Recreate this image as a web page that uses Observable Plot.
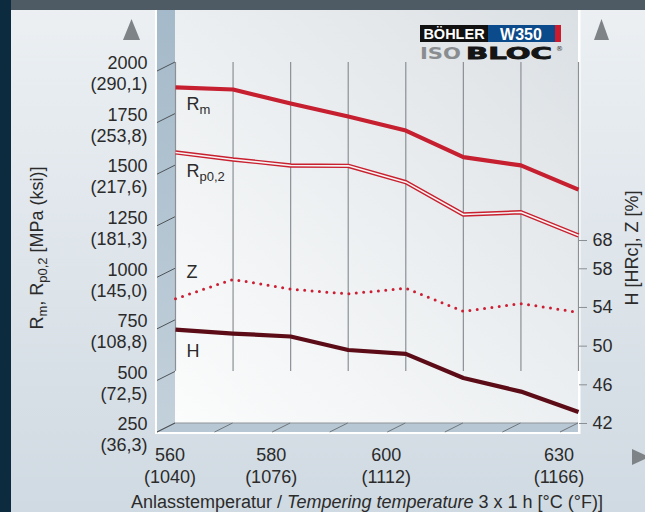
<!DOCTYPE html>
<html><head><meta charset="utf-8">
<script src="https://cdn.jsdelivr.net/npm/d3@7"></script>
<script src="https://cdn.jsdelivr.net/npm/@observablehq/plot@0.6"></script>
<style>
html,body{margin:0;padding:0;}
body{width:645px;height:512px;overflow:hidden;}
#chart{position:relative;width:645px;height:512px;background:linear-gradient(180deg,#ecf0f3 0%,#dde4ea 55%,#d0dae2 100%);font-family:"Liberation Sans",Arial,sans-serif;}
</style></head><body><div id="chart"></div>
<script>
// ---- data ----
const temps   = [560, 570, 580, 590, 600, 610, 620, 630];        // °C
const rm      = [1879, 1869, 1801, 1738, 1670, 1541, 1501, 1384]; // MPa
const rp02    = [1564, 1530, 1501, 1499, 1420, 1263, 1274, 1161]; // MPa
const zPct    = [54.9, 56.9, 55.9, 55.4, 56.0, 53.6, 54.4, 53.5]; // right axis units
const hHRC    = [51.7, 51.3, 51.0, 49.6, 49.2, 46.7, 45.3, 43.2]; // right axis units
const mpaTicks  = [250, 500, 750, 1000, 1250, 1500, 1750, 2000];
const ksiLabels = ["36,3", "72,5", "108,8", "145,0", "181,3", "217,6", "253,8", "290,1"];
const xTicks    = [560, 580, 600, 630];
const fLabels   = ["1040", "1076", "1112", "1166"];
const rightTicks = [42, 46, 50, 54, 58, 68];
// right-axis values and where they sit on the MPa axis
const rightAxisVals = [42, 58, 68];
const rightAxisMPa  = [250, 1000, 1137];

const hToY = d3.scaleLinear().domain(rightAxisVals).range(rightAxisMPa);
const rows = temps.map((t, i) => ({t, rm: rm[i], rp: rp02[i], z: hToY(zPct[i]), h: hToY(hHRC[i])}));

const FONT = 18, INK = "#2b2b2b";
const DEPTH = [-18, 9];
const X_TITLE = "Anlasstemperatur / Tempering temperature 3 x 1 h [°C (°F)]";
const Y_TITLE = "Rm, Rp0,2 [MPa (ksi)]";

// ---- 3D backdrop drawn through the plot scales ----
function backdrop(index, scales) {
  const {x, y} = scales;
  const X0 = x(560), X1 = x(630), Yb = y(250);
  const [ddx, ddy] = DEPTH;
  const top = 10;
  const g = d3.create("svg:g");
  const defs = g.append("defs");
  const pg = defs.append("linearGradient").attr("id", "panelGrad").attr("gradientUnits", "userSpaceOnUse")
    .attr("x1", X0).attr("y1", Yb).attr("x2", X1).attr("y2", top);
  pg.append("stop").attr("offset", 0).attr("stop-color", "#fbfcfc");
  pg.append("stop").attr("offset", 0.5).attr("stop-color", "#eceff1");
  pg.append("stop").attr("offset", 1).attr("stop-color", "#dbe0e4");
  const wg = defs.append("linearGradient").attr("id", "wallGrad").attr("x1", 0).attr("y1", 0).attr("x2", 0).attr("y2", 1);
  wg.append("stop").attr("offset", 0).attr("stop-color", "#a4b9c9");
  wg.append("stop").attr("offset", 1).attr("stop-color", "#c3d1db");
  g.append("rect").attr("x", 0).attr("y", 0).attr("width", 645).attr("height", top).attr("fill", "#4e5a64");
  g.append("rect").attr("x", 0).attr("y", 0).attr("width", 11).attr("height", 512).attr("fill", "#0c2b3e");
  g.append("rect").attr("x", X0 + ddx - 2).attr("y", top).attr("width", X1 - (X0 + ddx - 2) + 2.5).attr("height", Yb + ddy + 2 - top).attr("fill", "#ffffff");
  g.append("rect").attr("x", X0).attr("y", top).attr("width", X1 - X0).attr("height", Yb - top).attr("fill", "url(#panelGrad)");
  g.append("rect").attr("x", X0 + ddx).attr("y", Yb).attr("width", X1 - X0 - ddx).attr("height", ddy).attr("fill", "#b7c7d3");
  g.append("path").attr("d", `M${X0 + ddx},${top}H${X0}V${Yb}L${X0 + ddx},${Yb + ddy}Z`).attr("fill", "url(#wallGrad)");
  g.append("line").attr("x1", X0).attr("x2", X1).attr("y1", Yb).attr("y2", Yb).attr("stroke", "#8d949a").attr("stroke-width", 1);
  temps.forEach(t => {
    g.append("line").attr("x1", x(t)).attr("y1", Yb).attr("x2", x(t) + ddx).attr("y2", Yb + ddy)
      .attr("stroke", "#6f767c").attr("stroke-width", 1);
  });
  mpaTicks.forEach(v => {
    g.append("line").attr("x1", X0).attr("y1", y(v)).attr("x2", X0 + ddx).attr("y2", y(v) + ddy)
      .attr("stroke", "#4d5358").attr("stroke-width", 1);
  });
  const ac = "#7e8388";
  g.append("path").attr("d", "M123,40L140,40L131.5,19Z").attr("fill", ac);
  g.append("path").attr("d", "M594,40L609,40L601.5,19Z").attr("fill", ac);
  g.append("path").attr("d", "M632,449L632,465L649,457Z").attr("fill", ac);
  return g.node();
}

function logo(index, scales) {
  const g = d3.create("svg:g").attr("text-anchor", "start");
  g.append("rect").attr("x", 414).attr("y", 10).attr("width", 152).attr("height", 52).attr("fill", "url(#panelGrad)");
  g.append("rect").attr("x", 420).attr("y", 25).attr("width", 68).attr("height", 17).attr("fill", "#111");
  g.append("rect").attr("x", 488).attr("y", 25).attr("width", 67).attr("height", 17).attr("fill", "#0b4a8b");
  g.append("rect").attr("x", 555).attr("y", 25).attr("width", 6).attr("height", 17).attr("fill", "#cc1b2f");
  g.append("text").attr("x", 454).attr("y", 39).attr("text-anchor", "middle").attr("fill", "#fff")
    .attr("font-size", 14.5).attr("font-weight", "bold").attr("font-family", "Liberation Sans, Arial").text("BÖHLER");
  g.append("text").attr("x", 521).attr("y", 39.5).attr("text-anchor", "middle").attr("fill", "#fff")
    .attr("font-size", 16).attr("font-weight", "bold").attr("font-family", "Liberation Sans, Arial").text("W350");
  g.append("text").attr("x", 420).attr("y", 58.5).attr("text-anchor", "start").attr("fill", "#8a8d90").attr("font-size", 16)
    .attr("font-weight", "bold").attr("font-family", "DejaVu Sans").attr("textLength", 41).attr("lengthAdjust", "spacingAndGlyphs").text("ISO");
  g.append("text").attr("x", 466).attr("y", 58.5).attr("text-anchor", "start").attr("fill", "#151515").attr("font-size", 16)
    .attr("font-weight", "bold").attr("font-family", "DejaVu Sans").attr("textLength", 86).attr("lengthAdjust", "spacingAndGlyphs")
    .attr("stroke", "#151515").attr("stroke-width", 0.8).text("BLOC");
  g.append("text").attr("x", 556).attr("y", 51).attr("text-anchor", "start").attr("fill", "#333").attr("font-size", 7).attr("font-family", "DejaVu Sans").text("®");
  return g.node();
}

const seriesLabel = (val, txt, dy) => Plot.text([{t: 560, v: val}], {
  x: "t", y: "v", text: () => txt, dx: 11, dy, textAnchor: "start", fontSize: FONT, fill: INK
});

const chart = Plot.plot({
  width: 645, height: 512,
  marginLeft: 175, marginRight: 67, marginTop: 62, marginBottom: 89,
  x: {domain: [560, 630], label: null},
  y: {domain: [250, 2000], label: null},
  style: {background: "transparent", fontFamily: "'Liberation Sans', Arial, sans-serif", overflow: "visible", color: INK},
  marks: [
    backdrop,
    Plot.ruleX(temps, {x: d => d, y1: 250, y2: 2000, insetTop: -52, stroke: "#8b9096", strokeWidth: 1.2}),
    logo,
    Plot.line(rows, {x: "t", y: "rm", stroke: "#c61f30", strokeWidth: 4.2, strokeLinejoin: "round", strokeLinecap: "butt"}),
    Plot.line(rows, {x: "t", y: "rp", stroke: "#c9202f", strokeWidth: 4.4, strokeLinejoin: "miter", strokeLinecap: "butt"}),
    Plot.line(rows, {x: "t", y: "rp", stroke: "#f5f5f5", strokeWidth: 1.6, strokeLinejoin: "miter", strokeLinecap: "butt"}),
    Plot.line(rows, {x: "t", y: "z", stroke: "#cc1f33", strokeWidth: 3, strokeDasharray: "0,7.4", strokeLinecap: "round"}),
    Plot.line(rows, {x: "t", y: "h", stroke: "#5c0c17", strokeWidth: 4.2, strokeLinejoin: "round", strokeLinecap: "butt"}),
    seriesLabel(rm[0], "Rm", 16.5),
    seriesLabel(rp02[0], "Rp0,2", 19),
    seriesLabel(hToY(zPct[0]), "Z", -26.5),
    seriesLabel(hToY(hHRC[0]), "H", 21.5),
    Plot.axisY(mpaTicks, {anchor: "left", tickSize: 0, tickPadding: 28, fontSize: FONT, lineHeight: 1.17, dy: 10.5,
      tickFormat: d => `${d}\n(${ksiLabels[mpaTicks.indexOf(d)]})`, label: null, fill: INK}),
    Plot.axisY(rightTicks.map(h => hToY(h)), {anchor: "right", tickSize: 8, tickPadding: 6, fontSize: FONT,
      tickFormat: d => String(rightTicks[rightTicks.map(h => hToY(h)).indexOf(d)]), label: null, stroke: "#8a8f94", fill: INK}),
    Plot.axisX([560], {anchor: "bottom", tickSize: 0, tickPadding: 22, fontSize: FONT, lineHeight: 1.22, dx: -5.5,
      tickFormat: d => `${d}\n(${fLabels[xTicks.indexOf(d)]})`, label: null, fill: INK}),
    Plot.axisX(xTicks.slice(1), {anchor: "bottom", tickSize: 0, tickPadding: 22, fontSize: FONT, lineHeight: 1.22, dx: -19.5,
      tickFormat: d => `${d}\n(${fLabels[xTicks.indexOf(d)]})`, label: null, fill: INK}),
    Plot.text([X_TITLE], {frameAnchor: "bottom", lineAnchor: "middle", textAnchor: "middle", dy: 79, dx: -10,
      text: d => d, fontSize: FONT, fill: INK}),
    Plot.text([Y_TITLE], {frameAnchor: "left", lineAnchor: "middle", textAnchor: "middle", rotate: -90, dx: -137.8, dy: 5,
      text: d => d, fontSize: FONT, fill: INK}),
    Plot.text(["H [HRc], Z [%]"], {frameAnchor: "right", lineAnchor: "middle", textAnchor: "middle", rotate: -90, dx: 54, dy: 5,
      text: d => d, fontSize: FONT, fill: INK})
  ]
});
document.getElementById("chart").appendChild(chart);

// ---- rich text (subscripts, italics), matched by content ----
const svg = d3.select(chart);
function rich(content, parts) {
  svg.selectAll("text").filter(function() { return this.textContent === content; }).each(function() {
    const t = d3.select(this);
    t.text(null);
    let shifted = 0;
    parts.forEach(([s, kind]) => {
      const ts = t.append("tspan").text(s);
      if (kind === "sub") { ts.attr("font-size", 13).attr("dy", 4 - shifted); shifted = 4; }
      else { if (shifted) ts.attr("dy", -shifted); shifted = 0; }
      if (kind === "it") ts.attr("font-style", "italic");
    });
  });
}
rich("Rm", [["R"], ["m", "sub"]]);
rich("Rp0,2", [["R"], ["p0,2", "sub"]]);
rich(Y_TITLE, [["R"], ["m", "sub"], [", R"], ["p0,2", "sub"], [" [MPa (ksi)]"]]);
rich(X_TITLE, [["Anlasstemperatur / "], ["Tempering temperature", "it"], [" 3 x 1 h [°C (°F)]"]]);
</script>
</body></html>
